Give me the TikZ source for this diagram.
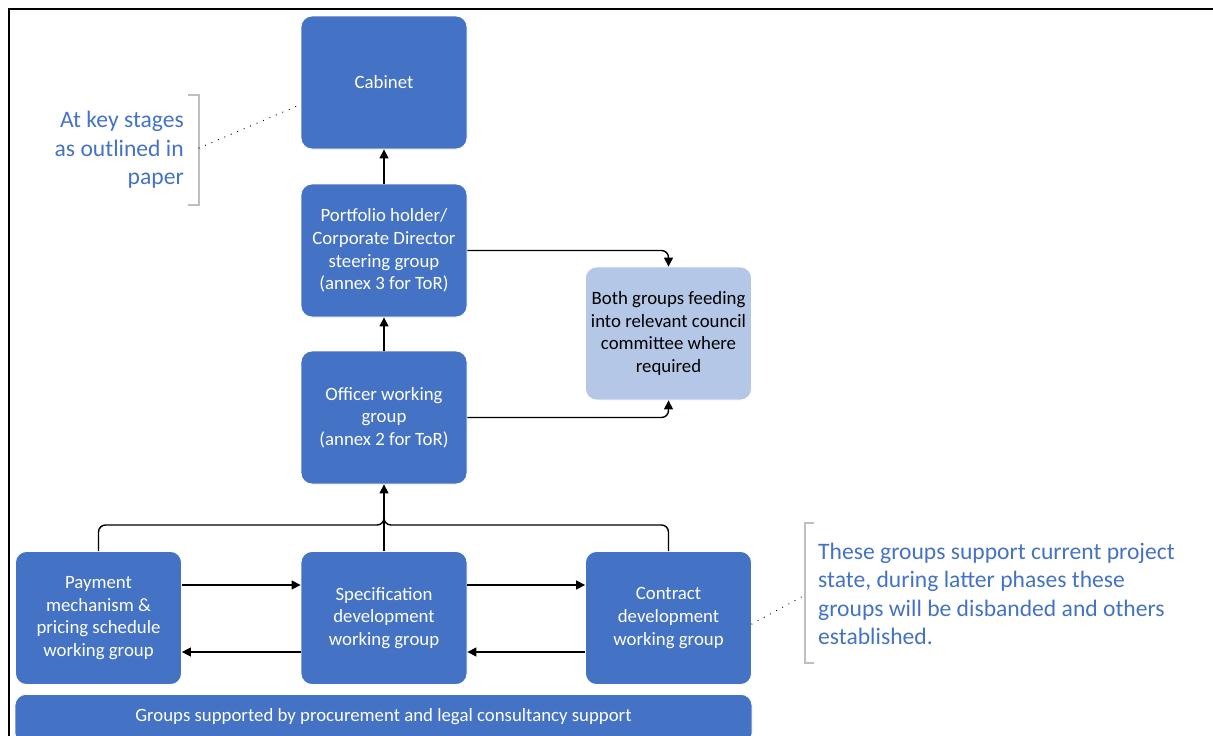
\documentclass[tikz,border=0pt]{standalone}
\usepackage{fontspec}
\setmainfont{Carlito}
\usetikzlibrary{arrows.meta}
\definecolor{boxblue}{HTML}{4472C4}
\definecolor{lightblue}{HTML}{B4C7E7}
\definecolor{brgray}{HTML}{BFBFBF}
\tikzset{
  box/.style={rectangle, rounded corners=11pt, fill=boxblue, draw=white, line width=0.8pt,
    minimum width=166pt, minimum height=133pt, text=white, align=center, inner sep=2pt,
    font=\fontsize{18.8}{22.7}\selectfont},
  lbox/.style={box, fill=lightblue, text=black},
  conn/.style={line width=1.4pt, rounded corners=7pt},
  arr/.style={conn, -{Triangle[length=9pt,width=9pt]}},
  note/.style={text=boxblue, font=\fontsize{23.6}{28.3}\selectfont, inner sep=0pt},
  brk/.style={draw=brgray, line width=1.3pt},
  dots/.style={line width=1.3pt, dash pattern=on 0.01pt off 7pt, line cap=round},
}
\begin{document}
\begin{tikzpicture}[x=1pt,y=-1pt]
\useasboundingbox (0,0) rectangle (1213,736);
\clip (0,0) rectangle (1213,736);
% frame
\draw[line width=2.4pt] (9,738) -- (9,9) -- (1215,9);
% boxes
\node[box] (cab) at (384,82.5) {Cabinet};
\node[box] (port) at (384,250.5) {Portfolio holder/\\Corporate Director\\steering group\\(annex 3 for ToR)};
\node[box] (off) at (384,417.5) {Officer working\\group\\(annex 2 for ToR)};
\node[lbox] (both) at (668.5,333.5) {Both groups feeding\\into relevant council\\committee where\\required};
\node[box] (pay) at (98.5,618) {Payment\\mechanism \&\\pricing schedule\\working group};
\node[box] (spec) at (384,618) {Specification\\development\\working group};
\node[box] (con) at (668.5,618) {Contract\\development\\working group};
\node[box, minimum width=737pt, minimum height=50pt, anchor=north] (bar) at (383.5,694) {\raisebox{0pt}[0pt][0pt]{\smash{\raisebox{-2pt}{Groups supported by procurement and legal consultancy support}}}};
% vertical arrows
\draw[arr] (port.north) -- (cab.south);
\draw[arr] (off.north) -- (port.south);
% to both
\draw[arr] (port.east) -| (both.north);
\draw[arr] (off.east) -| (both.south);
% tree
\coordinate (jn) at (384,525);
\draw[conn] (pay.north) |- (jn) -- ([yshift=14pt]jn);
\draw[conn] (con.north) |- (jn) -- ([yshift=14pt]jn);
\draw[arr] (spec.north) -- (off.south);
% horizontal arrows
\draw[arr] ([yshift=33pt]pay.east) -- ([yshift=33pt]spec.west);
\draw[arr] ([yshift=-34pt]spec.west) -- ([yshift=-34pt]pay.east);
\draw[arr] ([yshift=33pt]spec.east) -- ([yshift=33pt]con.west);
\draw[arr] ([yshift=-34pt]con.west) -- ([yshift=-34pt]spec.east);
% left note
\node[note, anchor=east, align=right] (lnote) at (184,150) {At key stages\\as outlined in\\paper};
\draw[brk] (188,95) -- (199,95) -- (199,205) -- (188,205);
\coordinate (lb) at (199,148);
\draw[dots] (lb) -- ([yshift=-22pt]cab.west);
% right note
\node[note, anchor=west, align=left] (rnote) at (818,594) {These groups support current project\\state, during latter phases these\\groups will be disbanded and others\\established.};
\draw[brk] (814,523) -- (805,523) -- (805,663) -- (814,663);
\coordinate (rb) at (805,595);
\draw[dots] ([yshift=-6pt]con.east) -- (rb);
\end{tikzpicture}
\end{document}
